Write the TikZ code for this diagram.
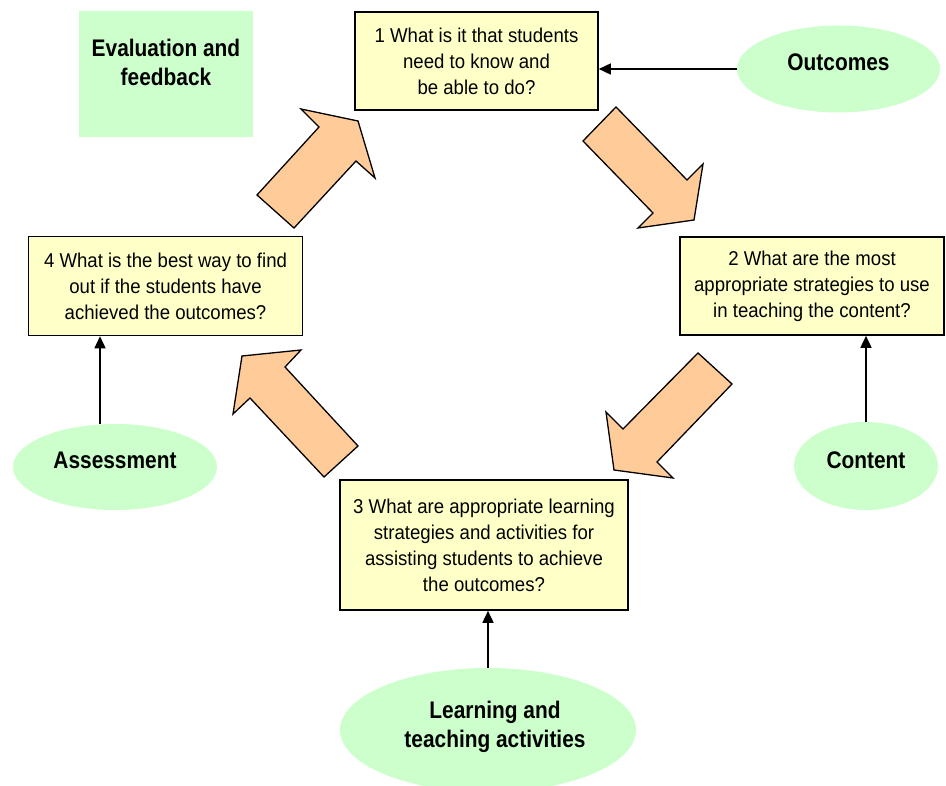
\documentclass[tikz,border=0pt]{standalone}
\usepackage{fontspec}
\setmainfont[FakeStretch=0.93]{Liberation Sans}
\newfontfamily\lblfont[FakeStretch=0.87]{Liberation Sans}
\usetikzlibrary{arrows.meta,shapes.geometric}
\definecolor{boxyellow}{HTML}{FFFFC8}
\definecolor{lgreen}{HTML}{CCFFCC}
\definecolor{peach}{HTML}{FFCC99}
\tikzset{
  qbox/.style={draw=black, line width=1.6pt, fill=boxyellow, align=center, inner sep=0pt,
    font=\fontsize{20}{26}\selectfont},
  lbl/.style={ellipse, fill=lgreen, inner sep=0pt},
  lbltext/.style={align=center, inner sep=0pt, font=\lblfont\bfseries\fontsize{24}{29}\selectfont},
  conn/.style={line width=1.6pt, -{Triangle[length=12pt,width=11pt]}},
  bigarrow/.style={draw=black, line width=1.3pt, fill=peach, line join=miter}
}
\begin{document}
\begin{tikzpicture}[x=1pt,y=-1pt]
\useasboundingbox (0,0) rectangle (946,786);

% evaluation box
\node[fill=lgreen, minimum width=174pt, minimum height=126pt, inner sep=0pt] (evalbox) at (166,74) {};
\node[lbltext] (evaltext) at (166,62) {Evaluation and\\feedback};

% question boxes
\node[qbox, minimum width=243pt, minimum height=98pt] (q1) at (476.5,61) {1 What is it that students\\need to know and\\be able to do?};
\node[qbox, minimum width=264pt, minimum height=98pt] (q2) at (812,286) {2 What are the most\\appropriate strategies to use\\in teaching the content?};
\node[qbox, minimum width=288pt, minimum height=130pt] (q3) at (484,545) {3 What are appropriate learning\\strategies and activities for\\assisting students to achieve\\the outcomes?};
\node[qbox, minimum width=274pt, minimum height=99pt] (q4) at (165.5,286) {4 What is the best way to find\\out if the students have\\achieved the outcomes?};

% ellipses
\node[lbl, minimum width=203pt, minimum height=87pt] (outc) at (838.5,69) {};
\node[lbltext] (outct) at (838.5,62) {Outcomes};
\node[lbl, minimum width=144pt, minimum height=88pt] (cont) at (866,466) {};
\node[lbltext] (contt) at (866,460) {Content};
\node[lbl, minimum width=204pt, minimum height=86pt] (assess) at (115,467) {};
\node[lbltext] (assesst) at (115,460) {Assessment};
\node[lbl, minimum width=296pt, minimum height=124pt] (learn) at (488,730) {};
\node[lbltext] (learnt) at (495,727) {Learning and\\teaching activities};

% connectors
\draw[conn] (outc.west) -- (q1.east |- outc.west);
\draw[conn] (cont.north) -- (cont.north |- q2.south);
\draw[conn] (assess.north -| 100,0) -- (100,0 |- q4.south);
\draw[conn] (learn.north) -- (learn.north |- q3.south);

% block arrows
\draw[bigarrow] (257,195) -- (294,228) -- (356,161) -- (375,178) -- (358,121) -- (301,109) -- (319,127) -- cycle;
\draw[bigarrow] (583,141) -- (616,107) -- (687,180) -- (703,164) -- (694,220) -- (638,228) -- (653,213) -- cycle;
\draw[bigarrow] (698,353) -- (732,384) -- (657,462) -- (673,478) -- (614,470) -- (606,412) -- (623,429) -- cycle;
\draw[bigarrow] (358,446) -- (324,477) -- (250,398) -- (233,414) -- (242,356) -- (301,350) -- (285,367) -- cycle;
\end{tikzpicture}
\end{document}
